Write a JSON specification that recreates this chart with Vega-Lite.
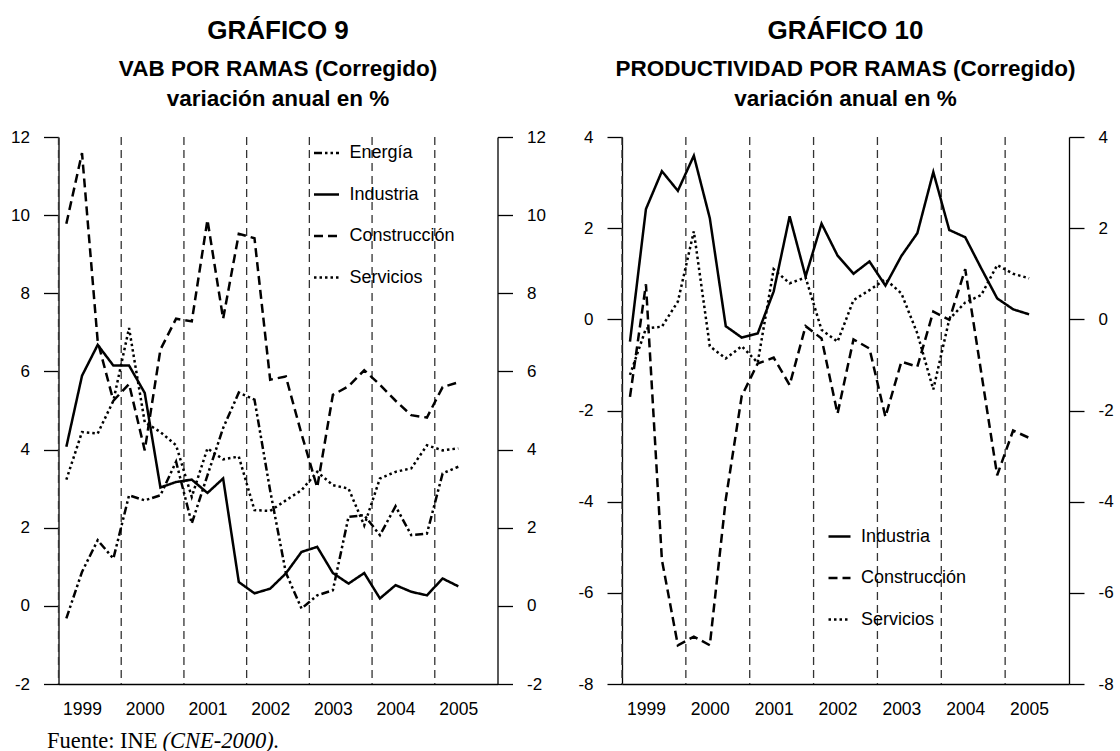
{
  "$schema": "https://vega.github.io/schema/vega-lite/v6.json",
  "padding": {"left": 10.5, "top": 17, "right": 0, "bottom": 0},
  "bounds": "flush",
  "spacing": 124.5,
  "config": {
    "view": {"stroke": null},
    "font": "Liberation Sans",
    "axis": {"labelFont": "Liberation Sans", "labelFontSize": 17, "labelColor": "black", "domainColor": "black", "tickColor": "black", "domainWidth": 1.3, "tickWidth": 1.3, "grid": false}
  },
  "resolve": {"scale": {"x": "independent", "y": "independent", "strokeDash": "independent"}, "legend": {"strokeDash": "independent"}},
  "datasets": {
    "years": [{"anio": 1999}, {"anio": 2000}, {"anio": 2001}, {"anio": 2002}, {"anio": 2003}, {"anio": 2004}, {"anio": 2005}],
    "vab": [
      {"t": 1999.125, "serie": "Energía", "v": -0.32}, {"t": 1999.375, "serie": "Energía", "v": 0.87}, {"t": 1999.625, "serie": "Energía", "v": 1.68}, {"t": 1999.875, "serie": "Energía", "v": 1.21},
      {"t": 2000.125, "serie": "Energía", "v": 2.83}, {"t": 2000.375, "serie": "Energía", "v": 2.7}, {"t": 2000.625, "serie": "Energía", "v": 2.83}, {"t": 2000.875, "serie": "Energía", "v": 3.69},
      {"t": 2001.125, "serie": "Energía", "v": 2.11}, {"t": 2001.375, "serie": "Energía", "v": 3.34}, {"t": 2001.625, "serie": "Energía", "v": 4.55}, {"t": 2001.875, "serie": "Energía", "v": 5.46},
      {"t": 2002.125, "serie": "Energía", "v": 5.28}, {"t": 2002.375, "serie": "Energía", "v": 2.95}, {"t": 2002.625, "serie": "Energía", "v": 0.85}, {"t": 2002.875, "serie": "Energía", "v": -0.07},
      {"t": 2003.125, "serie": "Energía", "v": 0.27}, {"t": 2003.375, "serie": "Energía", "v": 0.4}, {"t": 2003.625, "serie": "Energía", "v": 2.28}, {"t": 2003.875, "serie": "Energía", "v": 2.32},
      {"t": 2004.125, "serie": "Energía", "v": 1.81}, {"t": 2004.375, "serie": "Energía", "v": 2.55}, {"t": 2004.625, "serie": "Energía", "v": 1.81}, {"t": 2004.875, "serie": "Energía", "v": 1.85},
      {"t": 2005.125, "serie": "Energía", "v": 3.39}, {"t": 2005.375, "serie": "Energía", "v": 3.56},

      {"t": 1999.125, "serie": "Industria", "v": 4.07}, {"t": 1999.375, "serie": "Industria", "v": 5.89}, {"t": 1999.625, "serie": "Industria", "v": 6.68}, {"t": 1999.875, "serie": "Industria", "v": 6.15},
      {"t": 2000.125, "serie": "Industria", "v": 6.15}, {"t": 2000.375, "serie": "Industria", "v": 5.45}, {"t": 2000.625, "serie": "Industria", "v": 3.03}, {"t": 2000.875, "serie": "Industria", "v": 3.17},
      {"t": 2001.125, "serie": "Industria", "v": 3.23}, {"t": 2001.375, "serie": "Industria", "v": 2.89}, {"t": 2001.625, "serie": "Industria", "v": 3.26}, {"t": 2001.875, "serie": "Industria", "v": 0.61},
      {"t": 2002.125, "serie": "Industria", "v": 0.32}, {"t": 2002.375, "serie": "Industria", "v": 0.44}, {"t": 2002.625, "serie": "Industria", "v": 0.83}, {"t": 2002.875, "serie": "Industria", "v": 1.38},
      {"t": 2003.125, "serie": "Industria", "v": 1.51}, {"t": 2003.375, "serie": "Industria", "v": 0.84}, {"t": 2003.625, "serie": "Industria", "v": 0.57}, {"t": 2003.875, "serie": "Industria", "v": 0.84},
      {"t": 2004.125, "serie": "Industria", "v": 0.19}, {"t": 2004.375, "serie": "Industria", "v": 0.53}, {"t": 2004.625, "serie": "Industria", "v": 0.36}, {"t": 2004.875, "serie": "Industria", "v": 0.27},
      {"t": 2005.125, "serie": "Industria", "v": 0.7}, {"t": 2005.375, "serie": "Industria", "v": 0.5},

      {"t": 1999.125, "serie": "Construcción", "v": 9.78}, {"t": 1999.375, "serie": "Construcción", "v": 11.59}, {"t": 1999.625, "serie": "Construcción", "v": 6.77}, {"t": 1999.875, "serie": "Construcción", "v": 5.25},
      {"t": 2000.125, "serie": "Construcción", "v": 5.68}, {"t": 2000.375, "serie": "Construcción", "v": 3.98}, {"t": 2000.625, "serie": "Construcción", "v": 6.56}, {"t": 2000.875, "serie": "Construcción", "v": 7.35},
      {"t": 2001.125, "serie": "Construcción", "v": 7.28}, {"t": 2001.375, "serie": "Construcción", "v": 9.88}, {"t": 2001.625, "serie": "Construcción", "v": 7.35}, {"t": 2001.875, "serie": "Construcción", "v": 9.52},
      {"t": 2002.125, "serie": "Construcción", "v": 9.41}, {"t": 2002.375, "serie": "Construcción", "v": 5.79}, {"t": 2002.625, "serie": "Construcción", "v": 5.87}, {"t": 2002.875, "serie": "Construcción", "v": 4.4},
      {"t": 2003.125, "serie": "Construcción", "v": 3.03}, {"t": 2003.375, "serie": "Construcción", "v": 5.4}, {"t": 2003.625, "serie": "Construcción", "v": 5.62}, {"t": 2003.875, "serie": "Construcción", "v": 6.03},
      {"t": 2004.125, "serie": "Construcción", "v": 5.66}, {"t": 2004.375, "serie": "Construcción", "v": 5.25}, {"t": 2004.625, "serie": "Construcción", "v": 4.88}, {"t": 2004.875, "serie": "Construcción", "v": 4.82},
      {"t": 2005.125, "serie": "Construcción", "v": 5.6}, {"t": 2005.375, "serie": "Construcción", "v": 5.72},

      {"t": 1999.125, "serie": "Servicios", "v": 3.23}, {"t": 1999.375, "serie": "Servicios", "v": 4.45}, {"t": 1999.625, "serie": "Servicios", "v": 4.41}, {"t": 1999.875, "serie": "Servicios", "v": 5.25},
      {"t": 2000.125, "serie": "Servicios", "v": 7.11}, {"t": 2000.375, "serie": "Servicios", "v": 4.7}, {"t": 2000.625, "serie": "Servicios", "v": 4.45}, {"t": 2000.875, "serie": "Servicios", "v": 4.11},
      {"t": 2001.125, "serie": "Servicios", "v": 2.79}, {"t": 2001.375, "serie": "Servicios", "v": 4.03}, {"t": 2001.625, "serie": "Servicios", "v": 3.75}, {"t": 2001.875, "serie": "Servicios", "v": 3.82},
      {"t": 2002.125, "serie": "Servicios", "v": 2.45}, {"t": 2002.375, "serie": "Servicios", "v": 2.43}, {"t": 2002.625, "serie": "Servicios", "v": 2.7}, {"t": 2002.875, "serie": "Servicios", "v": 2.96},
      {"t": 2003.125, "serie": "Servicios", "v": 3.43}, {"t": 2003.375, "serie": "Servicios", "v": 3.09}, {"t": 2003.625, "serie": "Servicios", "v": 3.0}, {"t": 2003.875, "serie": "Servicios", "v": 2.06},
      {"t": 2004.125, "serie": "Servicios", "v": 3.26}, {"t": 2004.375, "serie": "Servicios", "v": 3.43}, {"t": 2004.625, "serie": "Servicios", "v": 3.52}, {"t": 2004.875, "serie": "Servicios", "v": 4.11},
      {"t": 2005.125, "serie": "Servicios", "v": 3.98}, {"t": 2005.375, "serie": "Servicios", "v": 4.03}
    ],
    "prod": [
      {"t": 1999.125, "serie": "Industria", "v": -0.49}, {"t": 1999.375, "serie": "Industria", "v": 2.42}, {"t": 1999.625, "serie": "Industria", "v": 3.25}, {"t": 1999.875, "serie": "Industria", "v": 2.82},
      {"t": 2000.125, "serie": "Industria", "v": 3.59}, {"t": 2000.375, "serie": "Industria", "v": 2.22}, {"t": 2000.625, "serie": "Industria", "v": -0.15}, {"t": 2000.875, "serie": "Industria", "v": -0.4},
      {"t": 2001.125, "serie": "Industria", "v": -0.31}, {"t": 2001.375, "serie": "Industria", "v": 0.61}, {"t": 2001.625, "serie": "Industria", "v": 2.26}, {"t": 2001.875, "serie": "Industria", "v": 0.94},
      {"t": 2002.125, "serie": "Industria", "v": 2.1}, {"t": 2002.375, "serie": "Industria", "v": 1.4}, {"t": 2002.625, "serie": "Industria", "v": 1.0}, {"t": 2002.875, "serie": "Industria", "v": 1.27},
      {"t": 2003.125, "serie": "Industria", "v": 0.74}, {"t": 2003.375, "serie": "Industria", "v": 1.39}, {"t": 2003.625, "serie": "Industria", "v": 1.89}, {"t": 2003.875, "serie": "Industria", "v": 3.23},
      {"t": 2004.125, "serie": "Industria", "v": 1.96}, {"t": 2004.375, "serie": "Industria", "v": 1.8}, {"t": 2004.625, "serie": "Industria", "v": 1.12}, {"t": 2004.875, "serie": "Industria", "v": 0.46},
      {"t": 2005.125, "serie": "Industria", "v": 0.22}, {"t": 2005.375, "serie": "Industria", "v": 0.11},

      {"t": 1999.125, "serie": "Construcción", "v": -1.7}, {"t": 1999.375, "serie": "Construcción", "v": 0.77}, {"t": 1999.625, "serie": "Construcción", "v": -5.28}, {"t": 1999.875, "serie": "Construcción", "v": -7.15},
      {"t": 2000.125, "serie": "Construcción", "v": -6.96}, {"t": 2000.375, "serie": "Construcción", "v": -7.15}, {"t": 2000.625, "serie": "Construcción", "v": -3.95}, {"t": 2000.875, "serie": "Construcción", "v": -1.68},
      {"t": 2001.125, "serie": "Construcción", "v": -0.97}, {"t": 2001.375, "serie": "Construcción", "v": -0.84}, {"t": 2001.625, "serie": "Construcción", "v": -1.44}, {"t": 2001.875, "serie": "Construcción", "v": -0.15},
      {"t": 2002.125, "serie": "Construcción", "v": -0.42}, {"t": 2002.375, "serie": "Construcción", "v": -2.07}, {"t": 2002.625, "serie": "Construcción", "v": -0.44}, {"t": 2002.875, "serie": "Construcción", "v": -0.64},
      {"t": 2003.125, "serie": "Construcción", "v": -2.14}, {"t": 2003.375, "serie": "Construcción", "v": -0.93}, {"t": 2003.625, "serie": "Construcción", "v": -1.04}, {"t": 2003.875, "serie": "Construcción", "v": 0.17},
      {"t": 2004.125, "serie": "Construcción", "v": -0.01}, {"t": 2004.375, "serie": "Construcción", "v": 1.1}, {"t": 2004.625, "serie": "Construcción", "v": -1.16}, {"t": 2004.875, "serie": "Construcción", "v": -3.42},
      {"t": 2005.125, "serie": "Construcción", "v": -2.44}, {"t": 2005.375, "serie": "Construcción", "v": -2.6},

      {"t": 1999.125, "serie": "Servicios", "v": -1.22}, {"t": 1999.375, "serie": "Servicios", "v": -0.2}, {"t": 1999.625, "serie": "Servicios", "v": -0.16}, {"t": 1999.875, "serie": "Servicios", "v": 0.39},
      {"t": 2000.125, "serie": "Servicios", "v": 1.93}, {"t": 2000.375, "serie": "Servicios", "v": -0.59}, {"t": 2000.625, "serie": "Servicios", "v": -0.86}, {"t": 2000.875, "serie": "Servicios", "v": -0.59},
      {"t": 2001.125, "serie": "Servicios", "v": -0.95}, {"t": 2001.375, "serie": "Servicios", "v": 1.1}, {"t": 2001.625, "serie": "Servicios", "v": 0.79}, {"t": 2001.875, "serie": "Servicios", "v": 0.92},
      {"t": 2002.125, "serie": "Servicios", "v": -0.23}, {"t": 2002.375, "serie": "Servicios", "v": -0.49}, {"t": 2002.625, "serie": "Servicios", "v": 0.42}, {"t": 2002.875, "serie": "Servicios", "v": 0.64},
      {"t": 2003.125, "serie": "Servicios", "v": 0.88}, {"t": 2003.375, "serie": "Servicios", "v": 0.57}, {"t": 2003.625, "serie": "Servicios", "v": -0.31}, {"t": 2003.875, "serie": "Servicios", "v": -1.54},
      {"t": 2004.125, "serie": "Servicios", "v": 0.0}, {"t": 2004.375, "serie": "Servicios", "v": 0.37}, {"t": 2004.625, "serie": "Servicios", "v": 0.53}, {"t": 2004.875, "serie": "Servicios", "v": 1.19},
      {"t": 2005.125, "serie": "Servicios", "v": 1.0}, {"t": 2005.375, "serie": "Servicios", "v": 0.9}
    ]
  },
  "hconcat": [
    {
      "width": 439,
      "height": 547,
      "title": {"text": "GRÁFICO 9", "subtitle": ["VAB POR RAMAS (Corregido)", "variación anual en %"], "anchor": "middle", "font": "Liberation Sans", "fontSize": 26, "fontWeight": "bold", "color": "black", "subtitleFont": "Liberation Sans", "subtitleFontSize": 22.5, "subtitleFontWeight": "bold", "subtitleColor": "black", "subtitlePadding": 14, "subtitleLineHeight": 30, "offset": 18},
      "resolve": {"axis": {"y": "independent"}},
      "layer": [
        {
          "data": {"name": "years"},
          "mark": {"type": "rule", "strokeDash": [8, 5], "color": "#333333", "strokeWidth": 1.3},
          "encoding": {
            "x": {"field": "anio", "type": "quantitative", "scale": {"domain": [1999, 2006], "nice": false, "zero": false}, "title": "Fuente: INE"}
          }
        },
        {
          "data": {"name": "vab"},
          "mark": {"type": "line", "color": "black", "strokeWidth": 2.5, "strokeCap": "butt"},
          "encoding": {
            "x": {"field": "t", "type": "quantitative", "scale": {"domain": [1999, 2006], "nice": false, "zero": false}, "title": "Fuente: INE",
              "axis": {"values": [1999.375, 2000.375, 2001.375, 2002.375, 2003.375, 2004.375, 2005.375], "labelExpr": "floor(datum.value)", "ticks": false, "labelPadding": 16, "labelFontSize": 17.5, "domainWidth": 1.5,
                "titleX": -12, "titleY": 63, "titleAlign": "left", "titleBaseline": "alphabetic", "titleFont": "Liberation Serif", "titleFontSize": 22.5, "titleFontWeight": "normal", "titleColor": "black"}},
            "y": {"field": "v", "type": "quantitative", "scale": {"domain": [-2, 12], "nice": false, "zero": false},
              "axis": {"orient": "left", "values": [-2, 0, 2, 4, 6, 8, 10, 12], "labelExpr": "datum.value < 0 ? '-' + abs(datum.value) : '' + datum.value", "tickSize": 15, "labelPadding": 14, "title": null}},
            "strokeDash": {"field": "serie", "type": "nominal",
              "scale": {"domain": ["Energía", "Industria", "Construcción", "Servicios"], "range": [[8, 3, 2.5, 3, 2.5, 3], [1, 0], [9, 5], [2.5, 3]]},
              "legend": {"orient": "none", "legendX": 254, "legendY": 2, "title": null, "symbolType": "stroke", "symbolSize": 625, "symbolStrokeWidth": 2.5, "symbolStrokeColor": "black", "labelFont": "Liberation Sans", "labelFontSize": 18, "labelColor": "black", "labelOffset": 9, "rowPadding": 18.5, "padding": 0}}
          }
        },
        {
          "mark": {"type": "rule", "color": "black", "strokeWidth": 1.3},
          "encoding": {
            "y": {"datum": 0, "type": "quantitative", "scale": {"domain": [-2, 12], "nice": false, "zero": false},
              "axis": {"orient": "right", "values": [-2, 0, 2, 4, 6, 8, 10, 12], "labelExpr": "datum.value < 0 ? '-' + abs(datum.value) : '' + datum.value", "tickSize": 15, "labelPadding": 14, "title": null}}
          }
        }
      ]
    },
    {
      "width": 447,
      "height": 547,
      "title": {"text": "GRÁFICO 10", "subtitle": ["PRODUCTIVIDAD POR RAMAS (Corregido)", "variación anual en %"], "anchor": "middle", "font": "Liberation Sans", "fontSize": 26, "fontWeight": "bold", "color": "black", "subtitleFont": "Liberation Sans", "subtitleFontSize": 22.5, "subtitleFontWeight": "bold", "subtitleColor": "black", "subtitlePadding": 14, "subtitleLineHeight": 30, "offset": 18},
      "resolve": {"axis": {"y": "independent"}},
      "layer": [
        {
          "data": {"name": "years"},
          "mark": {"type": "rule", "strokeDash": [8, 5], "color": "#333333", "strokeWidth": 1.3},
          "encoding": {
            "x": {"field": "anio", "type": "quantitative", "scale": {"domain": [1999, 2006], "nice": false, "zero": false}, "title": "(CNE-2000)."}
          }
        },
        {
          "data": {"name": "prod"},
          "mark": {"type": "line", "color": "black", "strokeWidth": 2.5, "strokeCap": "butt"},
          "encoding": {
            "x": {"field": "t", "type": "quantitative", "scale": {"domain": [1999, 2006], "nice": false, "zero": false}, "title": "(CNE-2000).",
              "axis": {"values": [1999.375, 2000.375, 2001.375, 2002.375, 2003.375, 2004.375, 2005.375], "labelExpr": "floor(datum.value)", "ticks": false, "labelPadding": 16, "labelFontSize": 17.5, "domainWidth": 1.5,
                "titleX": -460, "titleY": 63, "titleAlign": "left", "titleBaseline": "alphabetic", "titleFont": "Liberation Serif", "titleFontSize": 22.5, "titleFontWeight": "normal", "titleFontStyle": "italic", "titleColor": "black"}},
            "y": {"field": "v", "type": "quantitative", "scale": {"domain": [-8, 4], "nice": false, "zero": false},
              "axis": {"orient": "left", "values": [-8, -6, -4, -2, 0, 2, 4], "labelExpr": "datum.value < 0 ? '-' + abs(datum.value) : '' + datum.value", "tickSize": 15, "labelPadding": 14, "title": null}},
            "strokeDash": {"field": "serie", "type": "nominal",
              "scale": {"domain": ["Industria", "Construcción", "Servicios"], "range": [[1, 0], [9, 5], [2.5, 3]]},
              "legend": {"orient": "none", "legendX": 205, "legendY": 387, "title": null, "symbolType": "stroke", "symbolSize": 484, "symbolStrokeWidth": 2.5, "symbolStrokeColor": "black", "labelFont": "Liberation Sans", "labelFontSize": 18, "labelColor": "black", "labelOffset": 9, "rowPadding": 19.5, "padding": 0}}
          }
        },
        {
          "mark": {"type": "rule", "color": "black", "strokeWidth": 1.3},
          "encoding": {
            "y": {"datum": 0, "type": "quantitative", "scale": {"domain": [-8, 4], "nice": false, "zero": false},
              "axis": {"orient": "right", "values": [-8, -6, -4, -2, 0, 2, 4], "labelExpr": "datum.value < 0 ? '-' + abs(datum.value) : '' + datum.value", "tickSize": 15, "labelPadding": 14, "title": null}}
          }
        }
      ]
    }
  ]
}
